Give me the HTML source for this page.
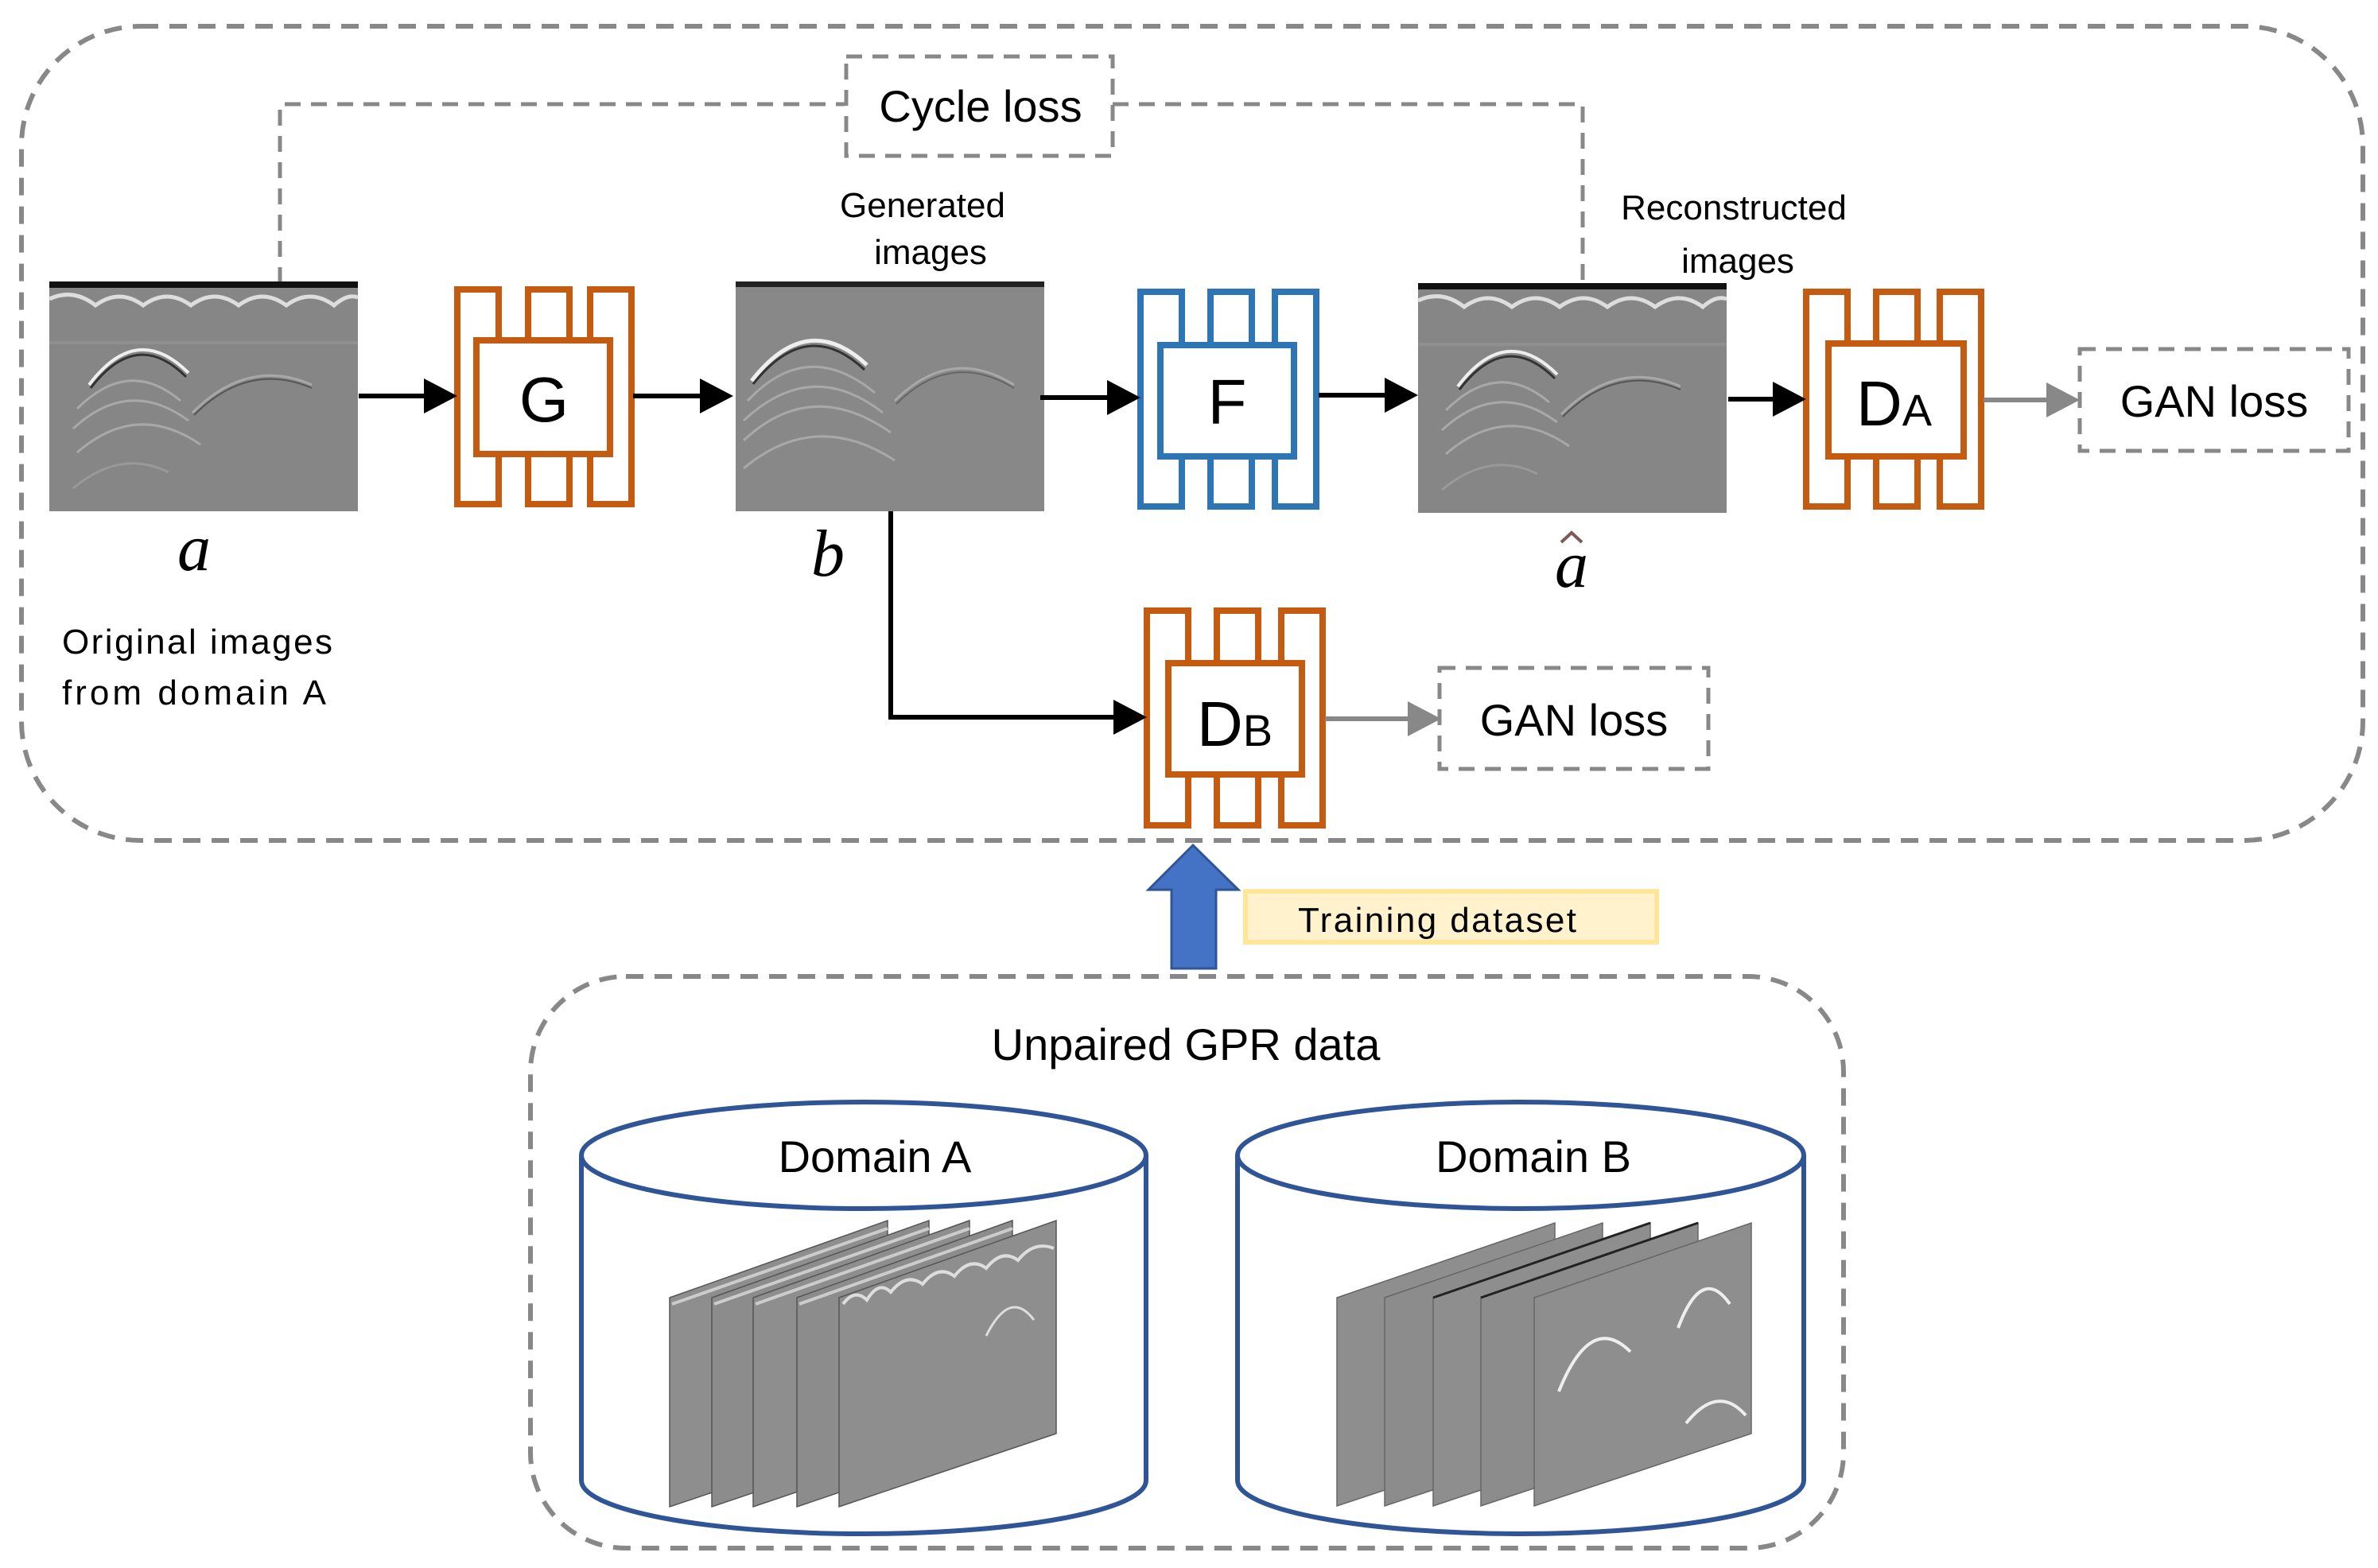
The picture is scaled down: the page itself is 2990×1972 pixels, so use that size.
<!DOCTYPE html>
<html><head><meta charset="utf-8"><style>
html,body{margin:0;padding:0;background:#fff}
svg{display:block}
text{font-family:"Liberation Sans",sans-serif}
</style></head><body>
<svg width="2990" height="1972" viewBox="0 0 2990 1972" xmlns="http://www.w3.org/2000/svg">
<defs>
<g id="imgA">
<rect x="0" y="0" width="388" height="289" fill="#868686"/>
<rect x="0" y="0" width="388" height="8" fill="#111"/>
<rect x="0" y="75" width="388" height="4" fill="#8f8f8f"/>
<path d="M0,22 Q30,8 58,30 Q88,8 118,30 Q148,8 178,30 Q208,8 238,30 Q268,8 298,30 Q328,8 358,30 Q375,15 388,20" fill="none" stroke="#ddd" stroke-width="5"/>
<path d="M50,130 Q110,50 175,115" fill="none" stroke="#eee" stroke-width="4"/>
<path d="M52,134 Q110,58 172,120" fill="none" stroke="#333" stroke-width="3"/>
<path d="M35,160 Q100,95 165,150 M30,185 Q100,120 175,175 M35,215 Q110,150 190,205 M180,165 Q250,95 330,130" fill="none" stroke="#a8a8a8" stroke-width="3"/>
<path d="M182,168 Q250,100 330,134" fill="none" stroke="#555" stroke-width="2"/>
<path d="M30,260 Q90,210 150,240" fill="none" stroke="#999" stroke-width="3"/>
</g>
<g id="imgB">
<rect x="0" y="0" width="388" height="289" fill="#888"/>
<rect x="0" y="0" width="388" height="7" fill="#222"/>
<path d="M20,125 Q90,35 165,105" fill="none" stroke="#eee" stroke-width="5"/>
<path d="M22,129 Q90,43 162,111" fill="none" stroke="#333" stroke-width="3"/>
<path d="M15,150 Q90,70 175,140 M10,175 Q95,95 185,165 M10,200 Q95,120 195,190 M10,235 Q100,160 200,225 M200,150 Q270,80 350,130" fill="none" stroke="#a8a8a8" stroke-width="3"/>
<path d="M202,154 Q270,86 350,134" fill="none" stroke="#666" stroke-width="2"/>
</g>
</defs>

<rect x="27" y="33" width="2944" height="1024" rx="150" fill="none" stroke="#888" stroke-width="6" stroke-dasharray="22,14"/>
<path d="M352,356 L352,131 L1062,131 M1399,131 L1990,131 L1990,358" fill="none" stroke="#888" stroke-width="5" stroke-dasharray="20,13"/>
<rect x="1064" y="71" width="335" height="125" fill="none" stroke="#888" stroke-width="5" stroke-dasharray="20,13"/>
<text x="1233" y="153" font-size="56" text-anchor="middle">Cycle loss</text>

<use href="#imgA" x="62" y="354"/>
<use href="#imgB" x="925" y="354"/>
<use href="#imgA" x="1783" y="356"/>

<g fill="none" stroke="#c55a11" stroke-width="8">
<rect x="575" y="364" width="52" height="270"/>
<rect x="664" y="364" width="52" height="270"/>
<rect x="742" y="364" width="52" height="270"/>
<rect x="599" y="428" width="168" height="143" fill="#fff"/>
</g>
<text x="684" y="530" font-size="80" text-anchor="middle">G</text>

<g fill="none" stroke="#2e75b6" stroke-width="8">
<rect x="1434" y="367" width="52" height="270"/>
<rect x="1522" y="367" width="52" height="270"/>
<rect x="1603" y="367" width="52" height="270"/>
<rect x="1459" y="434" width="168" height="140" fill="#fff"/>
</g>
<text x="1543" y="533" font-size="80" text-anchor="middle">F</text>

<g fill="none" stroke="#c55a11" stroke-width="8">
<rect x="2271" y="367" width="52" height="270"/>
<rect x="2359" y="367" width="52" height="270"/>
<rect x="2439" y="367" width="52" height="270"/>
<rect x="2299" y="432" width="170" height="142" fill="#fff"/>
</g>
<text x="2334" y="535" font-size="80">D<tspan font-size="56">A</tspan></text>

<g fill="none" stroke="#c55a11" stroke-width="8">
<rect x="1442" y="768" width="52" height="270"/>
<rect x="1530" y="768" width="52" height="270"/>
<rect x="1611" y="768" width="52" height="270"/>
<rect x="1469" y="834" width="168" height="140" fill="#fff"/>
</g>
<text x="1505" y="938" font-size="80">D<tspan font-size="56">B</tspan></text>

<g stroke="#000" stroke-width="6" fill="none">
<line x1="451" y1="498" x2="540" y2="498"/>
<line x1="796" y1="498" x2="885" y2="498"/>
<line x1="1308" y1="500" x2="1397" y2="500"/>
<line x1="1658" y1="497" x2="1746" y2="497"/>
<line x1="2173" y1="502" x2="2237" y2="502"/>
<path d="M1120,643 L1120,902 L1405,902"/>
</g>
<g fill="#000">
<polygon points="575,498 533,476 533,520"/>
<polygon points="922,498 880,476 880,520"/>
<polygon points="1434,500 1392,478 1392,522"/>
<polygon points="1783,497 1741,475 1741,519"/>
<polygon points="2271,502 2229,480 2229,524"/>
<polygon points="1442,902 1400,880 1400,924"/>
</g>
<g stroke="#888" stroke-width="6">
<line x1="2494" y1="503" x2="2580" y2="503"/>
<line x1="1666" y1="904" x2="1775" y2="904"/>
</g>
<g fill="#888">
<polygon points="2615,503 2573,481 2573,525"/>
<polygon points="1812,904 1770,882 1770,926"/>
</g>
<rect x="2615" y="439" width="338" height="128" fill="none" stroke="#888" stroke-width="5" stroke-dasharray="20,13"/>
<text x="2784" y="524" font-size="56" text-anchor="middle">GAN loss</text>
<rect x="1810" y="840" width="338" height="127" fill="none" stroke="#888" stroke-width="5" stroke-dasharray="20,13"/>
<text x="1979" y="925" font-size="56" text-anchor="middle">GAN loss</text>

<text x="244" y="717" font-size="84" font-style="italic" text-anchor="middle" style="font-family:'Liberation Serif',serif">a</text>
<text x="1041" y="724" font-size="84" font-style="italic" text-anchor="middle" style="font-family:'Liberation Serif',serif">b</text>
<text x="1976" y="738" font-size="84" font-style="italic" text-anchor="middle" style="font-family:'Liberation Serif',serif">a</text>
<path d="M1963,682 L1976,670 L1989,682" fill="none" stroke="#7a5a5a" stroke-width="4"/>
<text x="1160" y="273" font-size="44" text-anchor="middle">Generated</text>
<text x="1170" y="332" font-size="44" text-anchor="middle">images</text>
<text x="2180" y="276" font-size="44" text-anchor="middle">Reconstructed</text>
<text x="2185" y="343" font-size="44" text-anchor="middle">images</text>
<text x="78" y="822" font-size="44" textLength="340">Original images</text>
<text x="78" y="886" font-size="44" textLength="332">from domain A</text>

<polygon points="1500,1063 1444,1119 1473,1119 1473,1218 1529,1218 1529,1119 1557,1119" fill="#4472c4" stroke="#2f5597" stroke-width="3"/>
<rect x="1566" y="1121" width="517" height="64" fill="#fff2cc" stroke="#ffe699" stroke-width="6"/>
<text x="1632" y="1172" font-size="44" textLength="350">Training dataset</text>

<rect x="667" y="1228" width="1651" height="719" rx="120" fill="none" stroke="#888" stroke-width="6" stroke-dasharray="22,14"/>
<text x="1491" y="1333" font-size="56" text-anchor="middle">Unpaired GPR data</text>

<g fill="#fff" stroke="#2f5597" stroke-width="6">
<path d="M731,1453 L731,1862 A355,67 0 0 0 1441,1862 L1441,1453"/>
<ellipse cx="1086" cy="1453" rx="355" ry="67"/>
<path d="M1556,1453 L1556,1862 A356,67 0 0 0 2268,1862 L2268,1453"/>
<ellipse cx="1912" cy="1453" rx="356" ry="67"/>
</g>
<text x="1100" y="1474" font-size="56" text-anchor="middle">Domain A</text>
<text x="1928" y="1474" font-size="56" text-anchor="middle">Domain B</text>

<g stroke="#555" stroke-width="1.5">
<polygon points="842,1632 1116,1535 1116,1803 842,1895" fill="#8e8e8e"/>
<polygon points="895,1632 1168,1535 1168,1803 895,1895" fill="#8c8c8c"/>
<polygon points="947,1632 1219,1535 1219,1803 947,1895" fill="#8e8e8e"/>
<polygon points="1002,1632 1273,1535 1273,1803 1002,1895" fill="#8c8c8c"/>
<polygon points="1055,1632 1328,1535 1328,1803 1055,1895" fill="#8e8e8e"/>
</g>
<path d="M845,1640 L1116,1545 M898,1640 L1168,1545 M950,1640 L1219,1545 M1005,1640 L1273,1545" stroke="#ccc" stroke-width="4" fill="none"/>
<path d="M1060,1640 Q1075,1620 1090,1635 Q1105,1610 1120,1625 Q1140,1600 1160,1615 Q1180,1590 1200,1605 Q1220,1580 1240,1595 Q1260,1570 1280,1585 Q1300,1560 1325,1570" fill="none" stroke="#ddd" stroke-width="4"/>
<path d="M1240,1680 Q1270,1620 1300,1660" fill="none" stroke="#ddd" stroke-width="3"/>
<g stroke="#666" stroke-width="1.5">
<polygon points="1681,1632 1955,1538 1955,1803 1681,1894" fill="#8e8e8e"/>
<polygon points="1741,1632 2015,1538 2015,1803 1741,1894" fill="#8c8c8c"/>
<polygon points="1802,1632 2075,1538 2075,1803 1802,1894" fill="#8e8e8e"/>
<polygon points="1862,1632 2135,1538 2135,1803 1862,1894" fill="#8c8c8c"/>
<polygon points="1929,1632 2202,1538 2202,1803 1929,1894" fill="#8e8e8e"/>
</g>
<path d="M1802,1632 L2075,1538 M1862,1632 L2135,1538" stroke="#222" stroke-width="3"/>
<path d="M1960,1750 Q2000,1650 2050,1700 M2110,1670 Q2140,1590 2175,1640 M2120,1790 Q2160,1740 2195,1780" fill="none" stroke="#eee" stroke-width="4"/>
</svg>
</body></html>
